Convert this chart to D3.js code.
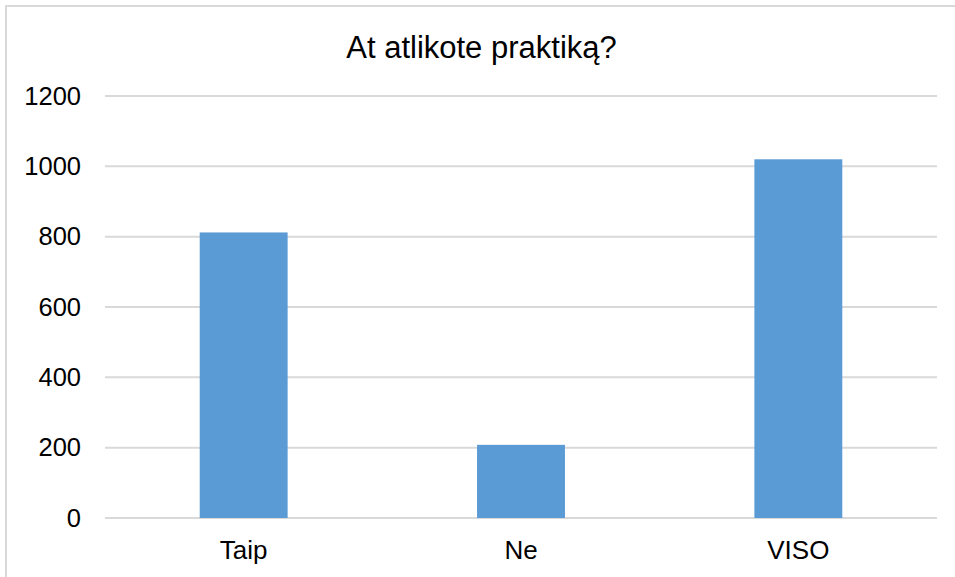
<!DOCTYPE html>
<html>
<head>
<meta charset="utf-8">
<script src="https://cdn.jsdelivr.net/npm/d3@7"></script>
<style>
  html, body { margin: 0; padding: 0; background: #fff; }
  svg { display: block; font-family: "Liberation Sans", Arial, sans-serif; }
</style>
</head>
<body>
<svg id="chart" width="955" height="577"></svg>
<script>
const title = "At atlikote praktiką?";
const categories = ["Taip", "Ne", "VISO"];
const values = [812, 208, 1020];
const yTicks = [0, 200, 400, 600, 800, 1000, 1200];

const svg = d3.select("#chart");
const W = 955, H = 577;

// outer chart border
svg.append("rect")
  .attr("x", 6).attr("y", 6)
  .attr("width", W + 10).attr("height", H + 10)
  .attr("fill", "#fff")
  .attr("stroke", "#d9d9d9").attr("stroke-width", 2);

const plot = { left: 105, right: 937, top: 96, bottom: 518 };

const x = d3.scaleBand()
  .domain(categories)
  .range([plot.left, plot.right])
  .paddingInner(0.683)
  .paddingOuter(0.3415);

const y = d3.scaleLinear()
  .domain([0, 1200])
  .range([plot.bottom, plot.top]);

// gridlines
svg.append("g")
  .selectAll("line")
  .data(yTicks)
  .join("line")
  .attr("x1", plot.left).attr("x2", plot.right)
  .attr("y1", d => y(d)).attr("y2", d => y(d))
  .attr("stroke", "#d9d9d9").attr("stroke-width", 2);

// bars
svg.append("g")
  .selectAll("rect")
  .data(categories.map((c, i) => ({ c, v: values[i] })))
  .join("rect")
  .attr("x", d => x(d.c))
  .attr("width", x.bandwidth())
  .attr("y", d => y(d.v))
  .attr("height", d => y(0) - y(d.v))
  .attr("fill", "#5b9bd5");

// y axis labels
const yAxis = d3.axisLeft(y).tickValues(yTicks).tickSize(0).tickPadding(0).tickFormat(d3.format("d"));
const gy = svg.append("g")
  .attr("transform", `translate(81,0)`)
  .call(yAxis);
gy.select(".domain").remove();
gy.selectAll("text")
  .attr("font-size", 25.5)
  .attr("fill", "#000")
  .attr("font-family", "'Liberation Sans', Arial, sans-serif");

// x axis labels
const xAxis = d3.axisBottom(x).tickSize(0).tickPadding(0);
const gx = svg.append("g")
  .attr("transform", `translate(0,${plot.bottom + 23})`)
  .call(xAxis);
gx.select(".domain").remove();
gx.selectAll("text")
  .attr("font-size", 26)
  .attr("fill", "#000")
  .attr("font-family", "'Liberation Sans', Arial, sans-serif");

// title
svg.append("text")
  .attr("x", 481.5).attr("y", 58)
  .attr("text-anchor", "middle")
  .attr("font-size", 31)
  .attr("fill", "#000")
  .text(title);
</script>
</body>
</html>
